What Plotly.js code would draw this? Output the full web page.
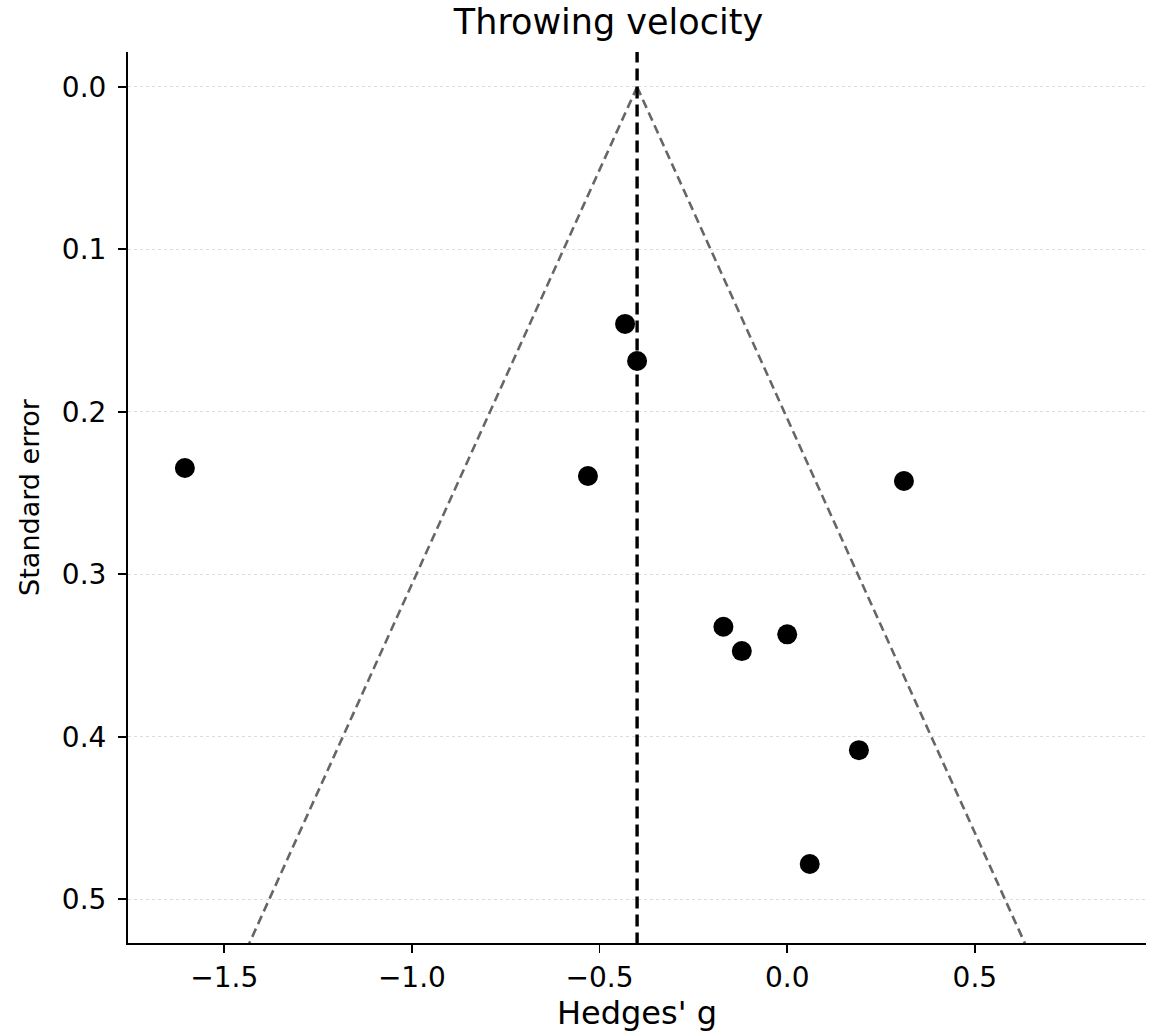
<!DOCTYPE html>
<html>
<head>
<meta charset="utf-8">
<script src="https://cdn.plot.ly/plotly-3.0.1.min.js"></script>
<style>
	html, body { margin: 0; padding: 0; background: #fff; }
	#chart { width: 1155px; height: 1032px; }
</style>
</head>
<body>
<div id="chart"></div>
<script>
// study effects (Hedges' g) and their standard errors
var hedgesG = [-1.605, -0.432, -0.400, -0.531, 0.311, -0.170, -0.121, 0.000, 0.191, 0.060];
var stdErr  = [0.2346, 0.1459, 0.1687, 0.2395, 0.2426, 0.3323, 0.3473, 0.3370, 0.4083, 0.4784];

// pooled estimate and funnel limits
var pooledG = -0.40;
var funnelSe = [0, 0.56];
var zCrit = 1.96;

var xTicks = [-1.5, -1.0, -0.5, 0.0, 0.5];
var yTicks = [0.0, 0.1, 0.2, 0.3, 0.4, 0.5];

var funnelLeft = funnelSe.map(function(s){ return pooledG - zCrit * s; });
var funnelRight = funnelSe.map(function(s){ return pooledG + zCrit * s; });

var font = "DejaVu Sans, sans-serif";

var data = [
	{
		type: 'scatter', mode: 'lines',
		x: funnelLeft, y: funnelSe,
		line: {color: '#666666', width: 2.6, dash: '9px,5px'},
		hoverinfo: 'skip'
	},
	{
		type: 'scatter', mode: 'lines',
		x: funnelRight, y: funnelSe,
		line: {color: '#666666', width: 2.6, dash: '9px,5px'},
		hoverinfo: 'skip'
	},
	{
		type: 'scatter', mode: 'lines',
		x: [pooledG, pooledG], y: [-0.1, 0.6],
		line: {color: '#000000', width: 3.4, dash: '12px,6px'},
		hoverinfo: 'skip'
	},
	{
		type: 'scatter', mode: 'markers',
		x: hedgesG, y: stdErr,
		marker: {color: '#000000', size: 20},
		cliponaxis: false
	}
];

var layout = {
	width: 1155,
	height: 1032,
	showlegend: false,
	paper_bgcolor: '#ffffff',
	plot_bgcolor: '#ffffff',
	margin: {l: 128, r: 9, t: 52, b: 89, pad: 0},
	font: {family: font, color: '#000000'},
	title: {
		text: 'Throwing velocity',
		font: {family: font, size: 35, color: '#000000'},
		xref: 'paper', x: 0.472, xanchor: 'center',
		yref: 'container', y: 1 - 22 / 1032, yanchor: 'middle'
	},
	xaxis: {
		range: [-1.7565, 0.956],
		tickvals: xTicks,
		tickformat: '.1f',
		ticks: 'outside', ticklen: 8, tickwidth: 1.8, tickcolor: '#000',
		showline: true, linecolor: '#000', linewidth: 2,
		showgrid: false, zeroline: false,
		tickfont: {family: font, size: 28, color: '#000'},
		title: {text: "Hedges' g", font: {family: font, size: 32, color: '#000'}, standoff: 4}
	},
	yaxis: {
		range: [0.527, -0.0215],
		tickvals: yTicks,
		tickformat: '.1f',
		ticks: 'outside', ticklen: 8, tickwidth: 1.8, tickcolor: '#000',
		ticklabelstandoff: 6,
		showline: true, linecolor: '#000', linewidth: 2,
		showgrid: true, gridcolor: '#dddddd', gridwidth: 1, griddash: 'dot',
		zeroline: false,
		tickfont: {family: font, size: 28, color: '#000'},
		title: {text: 'Standard error', font: {family: font, size: 27, color: '#000'}, standoff: 14}
	}
};

Plotly.newPlot('chart', data, layout, {staticPlot: true});
</script>
</body>
</html>
